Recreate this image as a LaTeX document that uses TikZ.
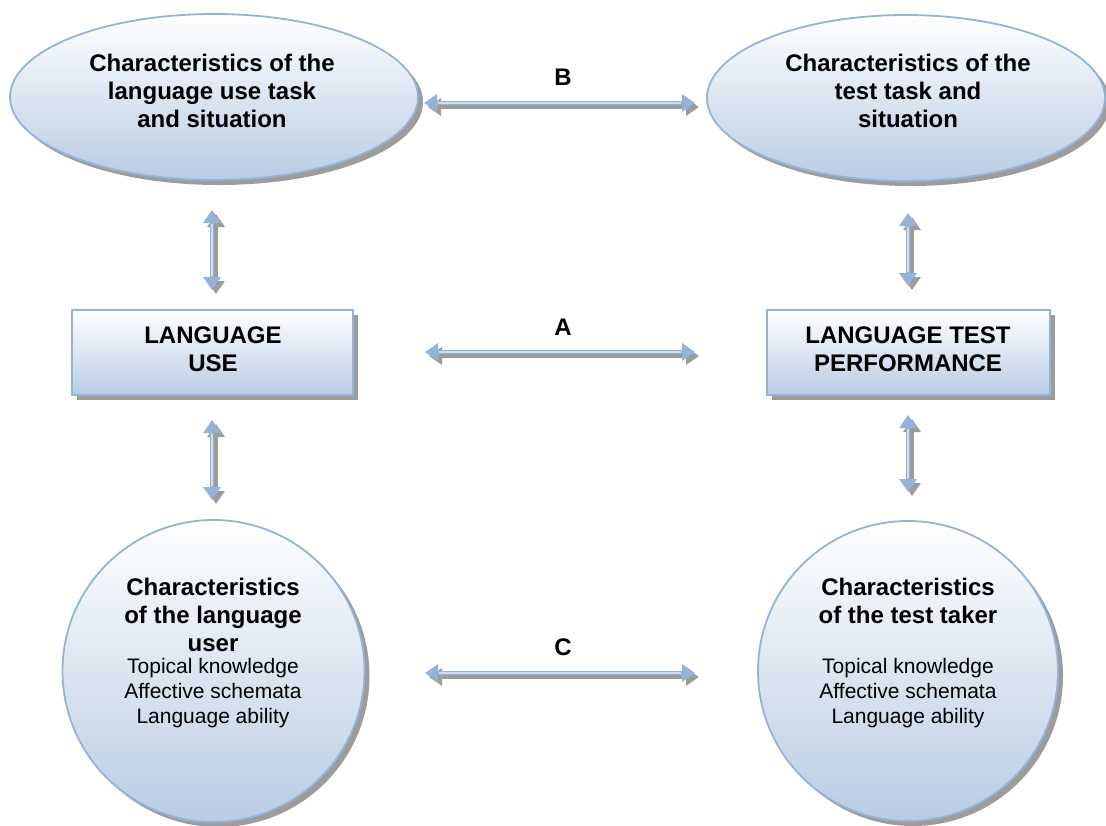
\documentclass[tikz,border=0pt]{standalone}
\usepackage{fontspec}
\setmainfont{Liberation Sans}
\usetikzlibrary{arrows.meta,shadows,shapes.geometric}
\definecolor{edgeblue}{HTML}{95B3D7}
\definecolor{fillblue}{HTML}{B8CCE4}
\definecolor{arrowblue}{HTML}{95B3D7}
\definecolor{shadowgray}{HTML}{9C9C9C}

% two-way connector with its shadow
\newcommand\twoway[2]{%
  \draw[arrowshadow] (#1) -- (#2);
  \draw[arrowmain] (#1) -- (#2);
  \draw[arrowcore] (#1) -- (#2);}

\begin{document}
\begin{tikzpicture}[x=1pt,y=-1pt,
  shapebase/.style={draw=edgeblue, line width=1.8pt, top color=white, bottom color=fillblue,
    drop shadow={shadow xshift=5pt, shadow yshift=-5pt, fill=shadowgray, opacity=1}},
  oval/.style={shapebase, ellipse, inner sep=0pt},
  rectbox/.style={shapebase, rectangle, inner sep=0pt},
  disc/.style={shapebase, circle, inner sep=0pt},
  title/.style={font=\bfseries\fontsize{24}{28}\selectfont, align=center, inner sep=0pt},
  listtext/.style={font=\fontsize{21}{25}\selectfont, align=center, inner sep=0pt},
  tipshape/.style={{Triangle[width=17pt,length=13pt]}-{Triangle[width=17pt,length=13pt]}},
  arrowmain/.style={tipshape, line width=4.5pt, draw=arrowblue, fill=arrowblue},
  arrowshadow/.style={tipshape, line width=4.5pt, draw=shadowgray, fill=shadowgray,
    transform canvas={xshift=4pt,yshift=-4pt}},
  arrowcore/.style={line width=1.3pt, draw=white!55!arrowblue, shorten <=14pt, shorten >=14pt}
]
\useasboundingbox (0,0) rectangle (1106,825);

% task characteristics
\node[oval, minimum width=408, minimum height=166] (useTask) at (214,97) {};
\node[title] (useTaskText) at (212,90.5) {Characteristics of the\\language use task\\and situation};
\node[oval, minimum width=398, minimum height=166] (testTask) at (906,98) {};
\node[title] (testTaskText) at (908,90.5) {Characteristics of the\\test task and\\situation};

% performance boxes
\node[rectbox, minimum width=281, minimum height=85] (langUse) at (212.5,352.5) {};
\node[title] (langUseText) at (213,349) {LANGUAGE\\USE};
\node[rectbox, minimum width=283, minimum height=85] (testPerf) at (908.5,352.5) {};
\node[title] (testPerfText) at (908,349) {LANGUAGE TEST\\PERFORMANCE};

% person characteristics
\node[disc, minimum size=302] (user) at (213.5,671) {};
\node[title] (userTitle) at (213,614.5) {Characteristics\\of the language\\user};
\node[listtext] (userList) at (213,693) {Topical knowledge\\Affective schemata\\Language ability};
\node[disc, minimum size=300] (taker) at (908,671) {};
\node[title] (takerTitle) at (908,600.5) {Characteristics\\of the test taker};
\node[listtext] (takerList) at (908,693) {Topical knowledge\\Affective schemata\\Language ability};

% correspondence labels
\node[title] (labB) at (563,77) {B};
\node[title] (labA) at (563,327) {A};
\node[title] (labC) at (563,647) {C};

% connector ends
\coordinate (bL) at (424,103);  \coordinate (bR) at (695,103);
\coordinate (aL) at (425,352);  \coordinate (aR) at (695,352);
\coordinate (cL) at (425,673);  \coordinate (cR) at (695,673);
\coordinate (v1t) at (212,210); \coordinate (v1b) at (212,290);
\coordinate (v2t) at (212,420); \coordinate (v2b) at (212,500);
\coordinate (v3t) at (908,213); \coordinate (v3b) at (908,286);
\coordinate (v4t) at (908,415); \coordinate (v4b) at (908,492);

\twoway{bL}{bR}
\twoway{aL}{aR}
\twoway{cL}{cR}
\twoway{v1t}{v1b}
\twoway{v2t}{v2b}
\twoway{v3t}{v3b}
\twoway{v4t}{v4b}
\end{tikzpicture}
\end{document}
